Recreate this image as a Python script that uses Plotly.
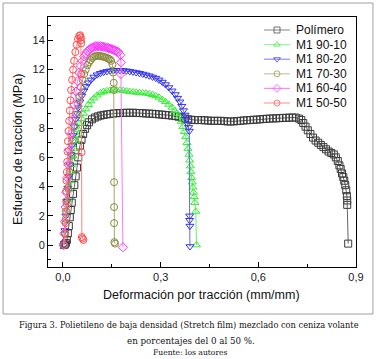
import plotly.graph_objects as go

# ---------------- data ----------------
series_names = ["Polímero", "M1 90-10", "M1 80-20", "M1 70-30", "M1 60-40", "M1 50-50"]

pol_x = [0.003,0.006,0.009,0.012,0.015,0.018,0.021,0.024,0.027,0.031,0.035,0.039,0.043,0.047,0.052,0.057,0.062,0.068,0.074,0.080,
         0.089,0.098,0.107,0.116,0.125,0.135,0.145,0.155,0.165,0.175,0.185,0.195,0.205,0.215,0.225,0.235,0.245,0.255,0.265,0.275,
         0.285,0.295,0.305,0.315,0.325,0.335,0.345,0.355,0.365,0.375,0.385,0.395,0.405,0.415,0.425,0.435,0.445,0.455,0.465,0.475,
         0.485,0.495,0.505,0.515,0.525,0.535,0.545,0.555,0.565,0.575,0.585,0.595,0.605,0.615,0.625,0.635,0.645,0.655,0.665,0.675,
         0.685,0.695,0.705,0.715,0.725,0.732,0.738,0.745,0.752,0.760,0.768,0.776,0.784,0.792,0.800,0.808,0.816,0.824,0.832,0.838,
         0.844,0.849,0.853,0.857,0.861,0.864,0.867,0.870,0.872,0.873,0.873,0.876]
pol_y = [0.0,0.05,0.15,0.35,0.8,1.3,1.9,2.4,2.9,3.5,4.1,4.7,5.3,6.0,6.8,7.2,7.6,7.95,8.2,8.4,
         8.6,8.72,8.8,8.86,8.9,8.94,8.97,9.0,9.02,9.03,9.04,9.05,9.05,9.05,9.04,9.03,9.02,9.0,8.99,8.98,
         8.96,8.94,8.92,8.9,8.88,8.85,8.82,8.78,8.72,8.65,8.6,8.57,8.55,8.55,8.55,8.53,8.52,8.5,8.5,8.5,
         8.5,8.48,8.46,8.45,8.46,8.48,8.5,8.52,8.54,8.55,8.57,8.58,8.6,8.62,8.64,8.65,8.66,8.67,8.68,8.7,
         8.7,8.72,8.72,8.72,8.65,8.55,8.35,8.1,7.85,7.6,7.35,7.15,7.0,6.85,6.7,6.55,6.4,6.3,6.2,6.0,
         5.75,5.45,5.2,4.9,4.65,4.4,4.1,3.75,3.35,3.05,2.75,0.1]

m9010_x = [0.003,0.006,0.009,0.012,0.015,0.018,0.021,0.024,0.027,0.031,0.035,0.039,0.043,0.047,0.052,0.057,0.063,0.070,0.078,0.086,
           0.095,0.105,0.115,0.125,0.135,0.145,0.155,0.165,0.175,0.185,0.195,0.205,0.215,0.225,0.235,0.245,0.255,0.265,0.275,0.285,
           0.295,0.305,0.315,0.325,0.335,0.343,0.350,0.357,0.363,0.368,0.373,0.377,0.381,0.384,0.387,0.389,0.391,0.393,0.395,0.397,
           0.399,0.401,0.403,0.405,0.408,0.410]
m9010_y = [0.0,0.8,1.6,2.4,3.1,3.8,4.4,5.0,5.5,6.1,6.6,7.1,7.5,7.9,8.3,8.65,9.0,9.3,9.6,9.85,
           10.05,10.25,10.4,10.5,10.55,10.58,10.6,10.6,10.6,10.57,10.53,10.5,10.47,10.45,10.43,10.41,10.38,10.34,10.28,10.2,
           10.1,9.95,9.8,9.62,9.42,9.2,9.0,8.8,8.45,8.1,7.75,7.4,7.0,6.6,6.2,5.8,5.4,5.0,4.6,4.3,
           3.95,3.6,3.3,2.9,2.3,0.0]

m8020_x = [0.003,0.006,0.009,0.012,0.015,0.018,0.021,0.024,0.027,0.031,0.035,0.039,0.043,0.047,0.052,0.058,0.064,0.071,0.078,0.086,
           0.095,0.105,0.115,0.125,0.135,0.145,0.155,0.165,0.175,0.185,0.195,0.205,0.215,0.225,0.235,0.245,0.255,0.265,0.275,0.285,
           0.295,0.305,0.315,0.325,0.335,0.345,0.352,0.359,0.365,0.370,0.375,0.379,0.383,0.386,0.388,0.389,0.389,0.390,0.390]
m8020_y = [0.0,1.0,2.0,3.0,3.9,4.7,5.5,6.2,6.8,7.5,8.1,8.6,9.0,9.4,9.8,10.2,10.55,10.85,11.1,11.3,
           11.5,11.65,11.75,11.83,11.88,11.92,11.94,11.95,11.95,11.94,11.92,11.88,11.84,11.8,11.75,11.7,11.64,11.58,11.5,11.42,
           11.3,11.15,10.98,10.78,10.55,10.3,10.05,9.8,9.5,9.2,8.9,8.6,8.3,8.05,7.8,2.0,1.7,1.3,-0.1]

m7030_x = [0.003,0.006,0.009,0.012,0.016,0.020,0.025,0.030,0.035,0.040,0.045,0.050,0.055,0.060,0.065,0.070,0.075,0.080,0.085,0.090,
           0.095,0.100,0.105,0.110,0.115,0.120,0.125,0.130,0.135,0.140,0.144,0.148,0.152,0.154,0.156,0.156,0.157,0.157,0.157,0.158,0.160]
m7030_y = [0.0,0.8,1.8,2.8,3.9,5.0,6.1,7.2,8.1,8.9,9.6,10.2,10.8,11.3,11.7,12.0,12.3,12.5,12.65,12.8,
           12.88,12.93,12.95,12.95,12.93,12.9,12.88,12.85,12.8,12.75,12.7,12.6,12.35,11.8,11.1,10.6,4.3,2.6,1.5,0.2,0.1]

m6040_x = [0.002,0.004,0.006,0.008,0.010,0.013,0.016,0.020,0.025,0.030,0.035,0.040,0.045,0.050,0.055,0.060,0.065,0.070,0.075,0.080,
           0.085,0.090,0.095,0.100,0.105,0.110,0.115,0.120,0.125,0.130,0.135,0.140,0.145,0.150,0.155,0.160,0.165,0.170,0.176,0.178,0.178,0.184]
m6040_y = [0.0,0.8,1.6,2.6,3.6,4.6,5.5,6.5,7.6,8.6,9.6,10.5,11.2,11.8,12.25,12.6,12.9,13.1,13.25,13.35,
           13.45,13.5,13.55,13.6,13.6,13.6,13.6,13.58,13.55,13.53,13.5,13.47,13.44,13.4,13.36,13.3,13.25,13.2,13.0,12.5,11.7,-0.15]

m5050_x = [0.003,0.006,0.008,0.009,0.010,0.010,0.011,0.012,0.013,0.014,0.015,0.017,0.019,0.021,0.023,0.025,0.028,0.031,0.034,0.038,
           0.042,0.046,0.050,0.053,0.055,0.055,0.056,0.056,0.057,0.058,0.060,0.063]
m5050_y = [0.0,0.8,1.5,2.3,3.0,3.7,4.4,5.0,5.7,6.4,7.1,7.8,8.5,9.2,9.9,10.6,11.3,12.0,12.6,13.2,
           13.7,14.1,14.3,14.35,14.2,14.0,13.8,11.7,6.35,0.55,0.45,0.35]

xs = [pol_x, m9010_x, m8020_x, m7030_x, m6040_x, m5050_x]
ys = [pol_y, m9010_y, m8020_y, m7030_y, m6040_y, m5050_y]

x_tickvals = [0.0, 0.3, 0.6, 0.9]
x_ticktext = ["0,0", "0,3", "0,6", "0,9"]
y_tickvals = [0, 2, 4, 6, 8, 10, 12, 14]
y_ticktext = ["0", "2", "4", "6", "8", "10", "12", "14"]

# ---------------- styling ----------------
marker_colors = ["#3a3a3a", "#33ee33", "#3333ee", "#8a8a3a", "#ff33ff", "#ff4d4d"]
line_colors = ["#666666", "#66f066", "#6666f0", "#a8a870", "#ff77ff", "#ff8080"]
legend_line_colors = ["#9a9a9a", "#99f599", "#8f8ff5", "#c8c8a8", "#ff88ff", "#ffa0a0"]
symbols = ["square-open", "triangle-up-open", "triangle-down-open", "circle-open", "diamond-open", "circle-open"]

fig = go.Figure()
for name, x, y, mc, lc, sym in zip(series_names, xs, ys, marker_colors, line_colors, symbols):
    fig.add_trace(go.Scatter(
        x=x, y=y, name=name, mode="lines+markers", showlegend=False,
        line=dict(color=lc, width=1),
        marker=dict(symbol=sym, size=7, color=mc, line=dict(width=1, color=mc)),
    ))

# ---- legend drawn in a pixel-unit overlay axis (compact Origin-style spacing) ----
LEG_X0, LEG_X1, LEG_TXT = 264, 290, 294     # pixel positions in the page
LEG_Y0, LEG_DY = 30, 14.6
legend_font = dict(family="Liberation Sans, Arial, sans-serif", size=12, color="#111111")
for i, (name, mc, llc, sym) in enumerate(zip(series_names, marker_colors, legend_line_colors, symbols)):
    yy = LEG_Y0 + i * LEG_DY
    fig.add_trace(go.Scatter(
        x=[LEG_X0, (LEG_X0 + LEG_X1) / 2, LEG_X1], y=[yy, yy, yy],
        xaxis="x2", yaxis="y2", mode="lines+markers", showlegend=False, hoverinfo="skip",
        line=dict(color=llc, width=1.2),
        marker=dict(symbol=sym, size=[0, 6, 0], color=mc, line=dict(width=1, color=mc)),
    ))
    fig.add_annotation(text=name, xref="x2", yref="y2", x=LEG_TXT, y=yy,
                       xanchor="left", yanchor="middle", showarrow=False, font=legend_font)

axis_font = dict(family="Liberation Sans, Arial, sans-serif", size=11, color="#222222")

fig.update_layout(
    width=378, height=359,
    margin=dict(l=48, r=22, t=17, b=92),
    paper_bgcolor="white", plot_bgcolor="white",
    showlegend=False,
    xaxis=dict(range=[-0.046, 0.9], tickmode="array", tickvals=x_tickvals, ticktext=x_ticktext,
               ticks="inside", ticklen=5, tickwidth=1, tickcolor="black",
               minor=dict(tickmode="array", tickvals=[0.15, 0.45, 0.75], ticks="inside", ticklen=3, tickcolor="black"),
               showline=True, linecolor="black", linewidth=1, mirror=True,
               showgrid=False, zeroline=False, tickfont=axis_font),
    yaxis=dict(range=[-1.5, 15.6], tickmode="array", tickvals=y_tickvals, ticktext=y_ticktext,
               ticks="inside", ticklen=5, tickwidth=1, tickcolor="black",
               minor=dict(tickmode="array", tickvals=[-1, 1, 3, 5, 7, 9, 11, 13, 15], ticks="inside", ticklen=3, tickcolor="black"),
               showline=True, linecolor="black", linewidth=1, mirror=True,
               showgrid=False, zeroline=False, tickfont=axis_font),
    xaxis2=dict(overlaying="x", range=[48, 356], visible=False, fixedrange=True),
    yaxis2=dict(overlaying="y", range=[267, 17], visible=False, fixedrange=True),
    font=dict(family="Liberation Sans, Arial, sans-serif"),
)

# outer frame
fig.add_shape(type="rect", xref="paper", yref="paper",
              x0=-0.146, x1=1.055, y0=-0.188, y1=1.056,
              line=dict(color="#a0a0a0", width=1), fillcolor="rgba(0,0,0,0)", layer="below")

title_font = dict(family="Liberation Sans, Arial, sans-serif", size=12.5, color="#111111")
fig.add_annotation(text="Deformación por tracción (mm/mm)", xref="paper", yref="paper",
                   x=0.497, y=-0.112, showarrow=False, font=title_font, xanchor="center", yanchor="middle")
fig.add_annotation(text="Esfuerzo de tracción (MPa)", xref="paper", yref="paper",
                   x=-0.097, y=0.468, showarrow=False, font=title_font, textangle=-90,
                   xanchor="center", yanchor="middle")

fig.add_annotation(text="Figura 3. Polietileno de baja densidad (Stretch film) mezclado con ceniza volante",
                   xref="paper", yref="paper", x=0.458, y=-0.232, showarrow=False,
                   font=dict(family="DejaVu Serif, Liberation Serif, serif", size=8.25, color="#111111"),
                   xanchor="center", yanchor="middle")
fig.add_annotation(text="en porcentajes del 0 al 50 %.",
                   xref="paper", yref="paper", x=0.464, y=-0.296, showarrow=False,
                   font=dict(family="DejaVu Serif, Liberation Serif, serif", size=8.7, color="#111111"),
                   xanchor="center", yanchor="middle")
fig.add_annotation(text="Fuente: los autores",
                   xref="paper", yref="paper", x=0.464, y=-0.34, showarrow=False,
                   font=dict(family="DejaVu Serif, Liberation Serif, serif", size=7.6, color="#111111"),
                   xanchor="center", yanchor="middle")

fig.write_html("out.html", config={"displayModeBar": False},
               post_script="document.body.style.margin='0px';")
